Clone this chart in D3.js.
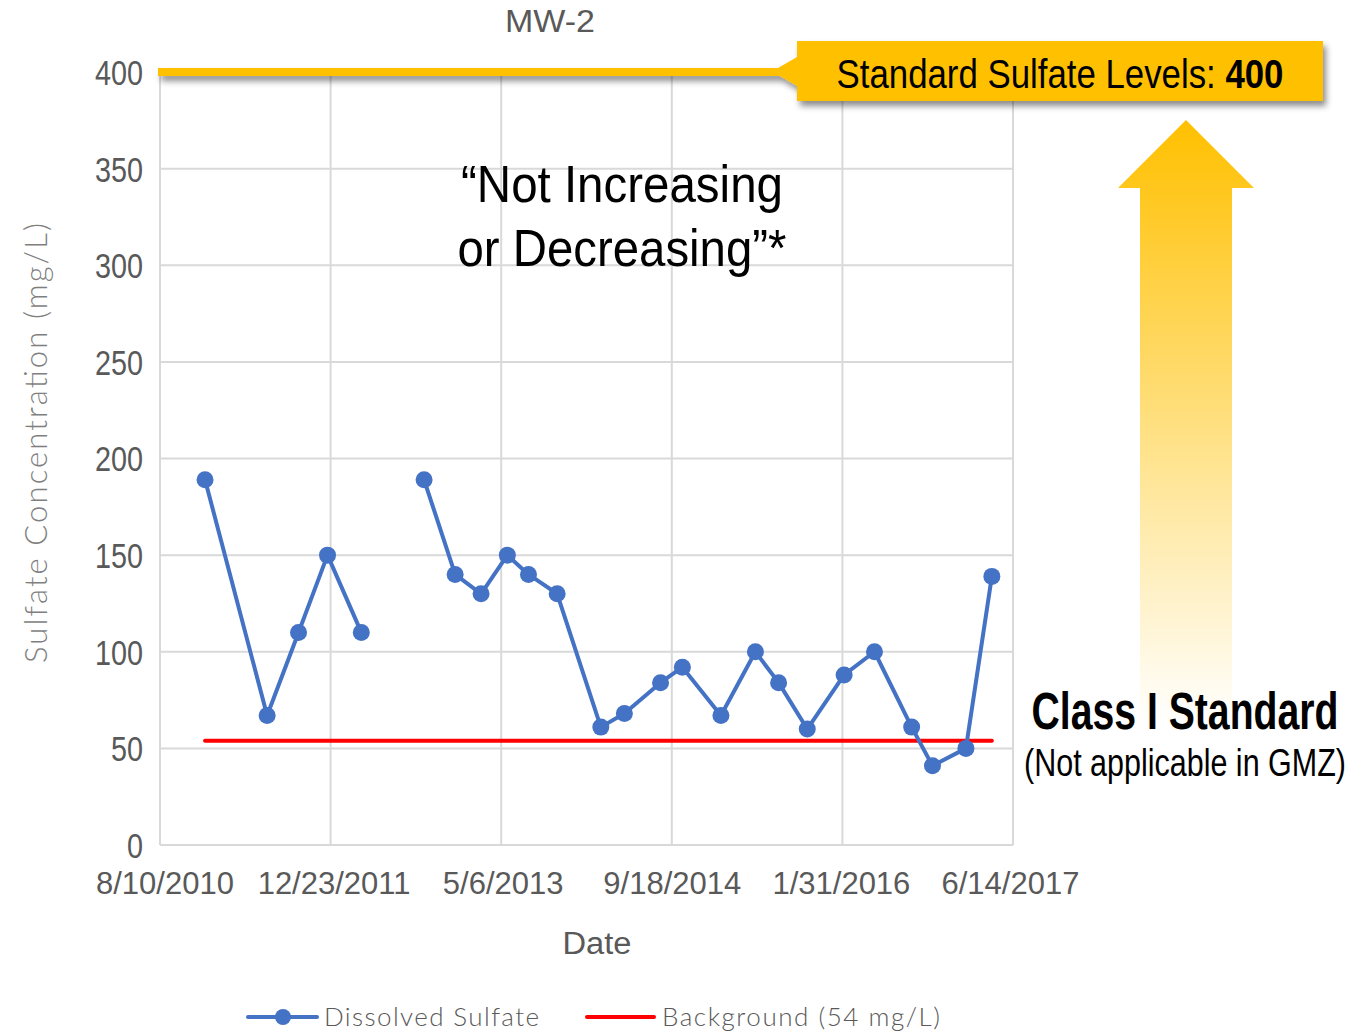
<!DOCTYPE html>
<meta charset="utf-8">
<style>
  body { margin: 0; padding: 0; background: #fff; }
  svg { display: block; background: #fff; }
  .narrow { font-family: "Liberation Sans", Arial, sans-serif; }
</style>
<script src="https://cdn.jsdelivr.net/npm/d3@7"></script>
<svg id="vis"></svg>
<script>

var width = 1353, height = 1032;

// sample dates and dissolved sulfate (mg/L); null = gap in record
const sampleDates = ["2010-12-20","2011-06-20","2011-09-20","2011-12-14","2012-03-22","2012-06-20",
  "2012-09-22","2012-12-22","2013-03-08","2013-05-24","2013-07-25","2013-10-17",
  "2014-02-22","2014-05-02","2014-08-16","2014-10-19","2015-02-09","2015-05-21",
  "2015-07-28","2015-10-20","2016-02-05","2016-05-04","2016-08-21","2016-10-21",
  "2017-01-27","2017-04-13"];
const sulfate = [189,67,110,150,110,null,
  189,140,130,150,140,130,
  61,68,84,92,67,100,
  84,60,88,100,61,41,
  50,139];
const background = 54;
const standardLevel = 400;
const xTickLabels = ["8/10/2010","12/23/2011","5/6/2013","9/18/2014","1/31/2016","6/14/2017"];
const yTicks = [0,50,100,150,200,250,300,350,400];

var parseDay = d3.utcParse("%Y-%m-%d");
var parseTick = d3.utcParse("%m/%d/%Y");
var data = sampleDates.map((d,i) => ({date: parseDay(d), value: sulfate[i]}));
var tickDates = xTickLabels.map(parseTick);

// squeeze/stretch a text horizontally about its anchor x so it is w px wide
function fitWidth(node, w) {
  var len = node.getComputedTextLength();
  scaleX(node, w / len);
}
function scaleX(node, s) {
  var ax = +node.getAttribute("x");
  node.setAttribute("transform", "translate(" + ax + ",0) scale(" + s + ",1) translate(" + (-ax) + ",0)");
}

var svg = d3.select("svg").attr("width", width).attr("height", height);
var defs = svg.append("defs");

var shadow = defs.append("filter").attr("id","shadow")
  .attr("x","-10%").attr("y","-50%").attr("width","120%").attr("height","250%");
shadow.append("feDropShadow").attr("dx",3).attr("dy",5).attr("stdDeviation",3)
  .attr("flood-color","#000").attr("flood-opacity",0.45);

var grad = defs.append("linearGradient").attr("id","arrowGrad")
  .attr("gradientUnits","userSpaceOnUse").attr("x1",0).attr("x2",0).attr("y1",120).attr("y2",725);
grad.append("stop").attr("offset","0%").attr("stop-color","#FFC000");
grad.append("stop").attr("offset","100%").attr("stop-color","#FFFFFF");

var x = d3.scaleUtc().domain([tickDates[0], tickDates[tickDates.length-1]]).range([160, 1013]);
var y = d3.scaleLinear().domain([0, 400]).range([845, 72]);

// gridlines
var grid = svg.append("g").attr("stroke","#d9d9d9").attr("stroke-width",2);
grid.selectAll("line.h").data(yTicks.filter(d => d < 400)).enter().append("line")
  .attr("x1", x.range()[0]).attr("x2", x.range()[1])
  .attr("y1", d => y(d)).attr("y2", d => y(d));
grid.selectAll("line.v").data(tickDates).enter().append("line")
  .attr("x1", d => x(d)).attr("x2", d => x(d))
  .attr("y1", y(0)).attr("y2", y(400));

// y tick labels
svg.append("g").attr("class","narrow").attr("fill","#595959").attr("font-size",36)
  .selectAll("text").data(yTicks).enter().append("text")
  .attr("x", 143).attr("y", d => y(d)).attr("dy","0.36em").attr("text-anchor","end")
  .text(d => d)
  .each(function() { scaleX(this, 0.8); });

// x tick labels
var xl = svg.append("g").attr("class","narrow").attr("fill","#595959").attr("font-size",31)
  .selectAll("text").data(tickDates).enter().append("text")
  .attr("x", (d,i) => x(d) + 5 - i * 1.5).attr("y", 894).attr("text-anchor","middle")
  .text((d,i) => xTickLabels[i]);
var xs = 138 / xl.node().getComputedTextLength();
xl.each(function() { scaleX(this, xs); });

// titles
var t1 = svg.append("text").attr("class","narrow").attr("x",550).attr("y",32).attr("text-anchor","middle")
  .attr("font-size",31).attr("fill","#595959").text("MW-2");
fitWidth(t1.node(), 90);
var t2 = svg.append("text").attr("class","narrow").attr("x",597).attr("y",954).attr("text-anchor","middle")
  .attr("font-size",31).attr("fill","#595959").text("Date");
fitWidth(t2.node(), 69);
svg.append("text").attr("transform","translate(47,443) rotate(-90)").attr("text-anchor","middle")
  .attr("font-family","Lato, 'Open Sans', sans-serif").attr("font-weight",300)
  .attr("font-size",31).attr("fill","#7f7f7f")
  .attr("textLength",440).attr("lengthAdjust","spacing")
  .text("Sulfate Concentration (mg/L)");

// background line
svg.append("line")
  .attr("x1", x(data[0].date)).attr("x2", x(data[data.length-1].date))
  .attr("y1", y(background)).attr("y2", y(background))
  .attr("stroke","#FF0000").attr("stroke-width",4).attr("stroke-linecap","round");

// dissolved sulfate series
var line = d3.line().defined(d => d.value != null).x(d => x(d.date)).y(d => y(d.value));
svg.append("path").datum(data).attr("d", line)
  .attr("fill","none").attr("stroke","#4472C4").attr("stroke-width",4).attr("stroke-linejoin","round");
svg.append("g").selectAll("circle").data(data.filter(d => d.value != null)).enter().append("circle")
  .attr("cx", d => x(d.date)).attr("cy", d => y(d.value)).attr("r", 8.5).attr("fill","#4472C4");

// upward arrow
svg.append("path")
  .attr("d","M1186,120 L1254,188 L1232,188 L1232,735 L1140,735 L1140,188 L1118,188 Z")
  .attr("fill","url(#arrowGrad)");

// standard line + callout
var callout = svg.append("g").attr("filter","url(#shadow)");
callout.append("line").attr("x1",158).attr("x2",784).attr("y1",y(standardLevel)).attr("y2",y(standardLevel))
  .attr("stroke","#FFC000").attr("stroke-width",8);
callout.append("path")
  .attr("d","M797,41 L1323,41 L1323,101 L797,101 L797,86 L778,75 L778,68 L797,57 Z")
  .attr("fill","#FFC000");
var ct = svg.append("text").attr("class","narrow").attr("x",1060).attr("y",88).attr("text-anchor","middle")
  .attr("font-size",40).attr("fill","#000");
ct.append("tspan").text("Standard Sulfate Levels: ");
ct.append("tspan").attr("font-weight","bold").text(standardLevel);
fitWidth(ct.node(), 447);

// annotations
var n1 = svg.append("text").attr("class","narrow").attr("x",622).attr("y",202).attr("text-anchor","middle")
  .attr("font-size",52).attr("fill","#000").text("\u201cNot Increasing");
fitWidth(n1.node(), 322);
var n2 = svg.append("text").attr("class","narrow").attr("x",622).attr("y",266).attr("text-anchor","middle")
  .attr("font-size",52).attr("fill","#000").text("or Decreasing\u201d*");
fitWidth(n2.node(), 329);

var c1 = svg.append("text").attr("class","narrow").attr("x",1185).attr("y",729).attr("text-anchor","middle")
  .attr("font-size",51).attr("font-weight","bold").attr("fill","#000").text("Class I Standard");
fitWidth(c1.node(), 307);
var c2 = svg.append("text").attr("class","narrow").attr("x",1185).attr("y",776).attr("text-anchor","middle")
  .attr("font-size",38).attr("fill","#000").text("(Not applicable in GMZ)");
fitWidth(c2.node(), 322);

// legend
var leg = svg.append("g").attr("font-family","Lato, 'Open Sans', sans-serif").attr("font-weight",300)
  .attr("font-size",26).attr("fill","#595959");
leg.append("line").attr("x1",248).attr("x2",317).attr("y1",1017).attr("y2",1017)
  .attr("stroke","#4472C4").attr("stroke-width",4).attr("stroke-linecap","round");
leg.append("circle").attr("cx",283).attr("cy",1017).attr("r",8).attr("fill","#4472C4");
leg.append("text").attr("x",324).attr("y",1026).attr("textLength",215).attr("lengthAdjust","spacing").text("Dissolved Sulfate");
leg.append("line").attr("x1",587).attr("x2",654).attr("y1",1017).attr("y2",1017)
  .attr("stroke","#FF0000").attr("stroke-width",4).attr("stroke-linecap","round");
leg.append("text").attr("x",662).attr("y",1026).attr("textLength",278).attr("lengthAdjust","spacing").text("Background (54 mg/L)");

</script>
